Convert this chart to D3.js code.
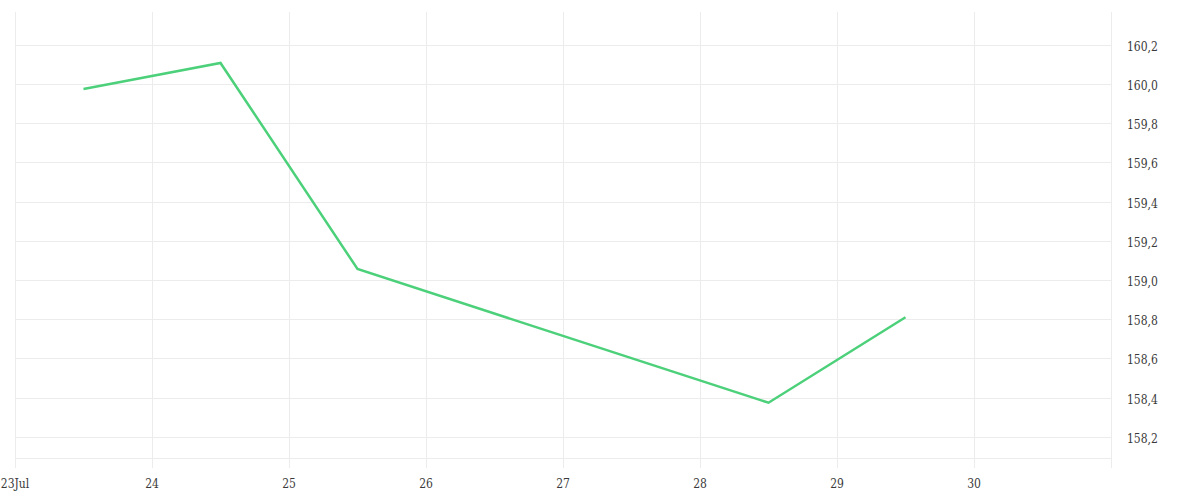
<!DOCTYPE html>
<html><head><meta charset="utf-8">
<script src="https://cdn.jsdelivr.net/npm/d3@7"></script>
<style>body{margin:0;background:#fff}svg text{font-family:"DejaVu Serif Condensed","DejaVu Serif",serif;font-size:12px;fill:#3a3a3a}</style>
</head><body><svg id="c" width="1200" height="500"></svg>
<script>
const dates = ["2024-07-23T12:00","2024-07-24T12:00","2024-07-25T12:00","2024-07-28T12:00","2024-07-29T12:00"];
const values = [159.974, 160.107, 159.056, 158.374, 158.81];
const yTicks = [158.2,158.4,158.6,158.8,159.0,159.2,159.4,159.6,159.8,160.0,160.2];
const xTickDays = [23,24,25,26,27,28,29,30];

const svg = d3.select("#c");
const pLeft=15,pRight=1111,pTop=12,pBottom=458;
const parse = d3.timeParse("%Y-%m-%dT%H:%M");
const x = d3.scaleTime().domain([new Date(2024,6,23), new Date(2024,6,31)]).range([pLeft,pRight]);
const y = d3.scaleLinear().domain([158.092,160.367]).range([pBottom,pTop]);
const grid = "#ececec";
const vdays = xTickDays.concat([31]);
svg.append("g").selectAll("line").data(vdays).join("line")
  .attr("x1",d=>Math.round(x(new Date(2024,6,d)))+0.5).attr("x2",d=>Math.round(x(new Date(2024,6,d)))+0.5)
  .attr("y1",pTop).attr("y2",pBottom+10).attr("stroke",grid);
svg.append("g").selectAll("line").data(yTicks).join("line")
  .attr("x1",pLeft).attr("x2",pRight).attr("y1",d=>Math.round(y(d))+0.5).attr("y2",d=>Math.round(y(d))+0.5)
  .attr("stroke",grid);
svg.append("line").attr("x1",pLeft).attr("x2",pRight).attr("y1",pBottom+0.5).attr("y2",pBottom+0.5)
  .attr("stroke",grid);
svg.append("g").selectAll("text").data(xTickDays).join("text")
  .attr("x",d=>x(new Date(2024,6,d))).attr("y",488).attr("text-anchor","middle")
  .text(d=>d===23?"23Jul":String(d));
const fmt = d3.formatLocale({decimal:",",thousands:".",grouping:[3],currency:["",""]}).format(".1f");
svg.append("g").selectAll("text").data(yTicks).join("text")
  .attr("x",1127).attr("y",d=>y(d)).attr("dy","0.5em").text(d=>fmt(d));
const pts = dates.map((d,i)=>[parse(d),values[i]]);
svg.append("path").datum(pts).attr("fill","none").attr("stroke","#4cd07a").attr("stroke-width",2.5)
  .attr("d",d3.line().x(d=>x(d[0])).y(d=>y(d[1])));
</script></body></html>
